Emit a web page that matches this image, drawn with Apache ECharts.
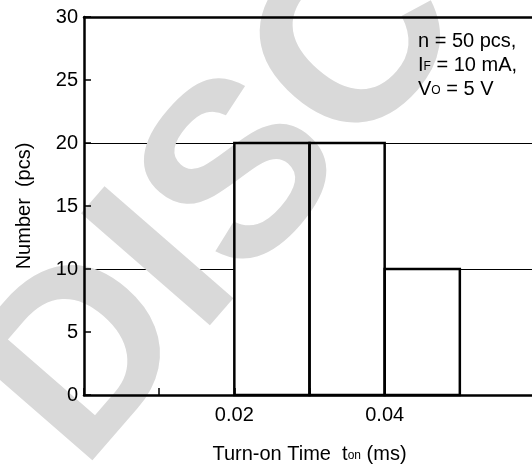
<!DOCTYPE html>
<html>
<head>
<meta charset="utf-8">
<script src="https://cdn.jsdelivr.net/npm/echarts@6/dist/echarts.min.js"></script>
<style>html,body{margin:0;padding:0;background:#fff;}#c{width:532px;height:469px;}</style>
</head>
<body>
<div id="c"></div>
<script>
// ---- data ----
const binStart = [0.02, 0.03, 0.04];
const binEnd   = [0.03, 0.04, 0.05];
const counts   = [20, 20, 10];
const xTickLabels = ['0.02', '0.04'];
const yTickLabels = ['0', '5', '10', '15', '20', '25', '30'];
const noteLines = [['n = 50 pcs,', '', ''], ['I', 'F', ' = 10 mA,'], ['V', 'O', ' = 5 V']];
const xTitle = ['Turn-on Time  t', 'on', ' (ms)'];
const yTitle = 'Number  (pcs)';
const watermark = 'DISCONTINUED';

const FONT = '"Liberation Sans", Arial, sans-serif';
const FS = 20;
const SFS = 12;

const chart = echarts.init(document.getElementById('c'), null, {renderer: 'canvas'});
const binData = binStart.map((s, i) => [s, binEnd[i], counts[i]]);

function rectItem(fill, stroke, lw) {
  return function (params, api) {
    const p0 = api.coord([api.value(0), api.value(2)]);
    const p1 = api.coord([api.value(1), 0]);
    return {
      type: 'rect',
      shape: {x: p0[0], y: p0[1], width: p1[0] - p0[0], height: p1[1] - p0[1]},
      style: {fill: fill, stroke: stroke, lineWidth: lw}
    };
  };
}

const noteText = noteLines.map(l => l[1] ? `{a|${l[0]}}{s|${l[1]}}{a|${l[2]}}` : `{a|${l[0]}}`).join('\n');
const subStyle = {fontFamily: FONT, fontSize: SFS, lineHeight: 12, verticalAlign: 'bottom', padding: [0, 0, 4, 0]};

chart.setOption({
  animation: false,
  backgroundColor: '#fff',
  grid: {left: 84, right: -3, top: 17, bottom: 74, containLabel: false, outerBoundsMode: 'none'},
  xAxis: [{
    type: 'value', min: 0, max: 0.06, interval: 0.01, position: 'bottom', z: 6,
    axisLine: {show: true, onZero: false, lineStyle: {color: '#000', width: 2.5}},
    axisTick: {show: true, inside: true, length: 7, lineStyle: {color: '#000', width: 1.5}},
    axisLabel: {
      margin: 10, color: '#000', fontFamily: FONT, fontSize: FS,
      formatter: v => xTickLabels.includes(v.toFixed(2)) ? v.toFixed(2) : ''
    },
    splitLine: {show: false},
    name: `{a|${xTitle[0]}}{s|${xTitle[1]}}{a|${xTitle[2]}}`,
    nameLocation: 'middle', nameGap: 47,
    nameTextStyle: {
      color: '#000',
      rich: {
        a: {fontFamily: FONT, fontSize: FS, color: '#000', lineHeight: 24},
        s: Object.assign({color: '#000'}, subStyle)
      }
    }
  }, {
    type: 'value', min: 0, max: 0.06, position: 'top', z: 6,
    axisLine: {show: true, onZero: false, lineStyle: {color: '#000', width: 2.5}},
    axisTick: {show: false}, axisLabel: {show: false}, splitLine: {show: false}
  }],
  yAxis: [{
    type: 'value', min: 0, max: 30, interval: 5, position: 'left', z: 6,
    axisLine: {show: true, onZero: false, lineStyle: {color: '#000', width: 2.5}},
    axisTick: {show: true, inside: true, length: 7, lineStyle: {color: '#000', width: 1.5}},
    axisLabel: {
      margin: 6, color: '#000', fontFamily: FONT, fontSize: FS,
      formatter: v => yTickLabels.includes(String(v)) ? String(v) : ''
    },
    splitLine: {show: false},
    name: yTitle, nameLocation: 'middle', nameGap: 50,
    nameTextStyle: {color: '#000', fontFamily: FONT, fontSize: FS}
  }, {
    type: 'value', min: 0, max: 30, interval: 10, position: 'left', z: 0,
    axisLine: {show: false}, axisTick: {show: false}, axisLabel: {show: false},
    splitLine: {show: true, lineStyle: {color: '#000', width: 1}}
  }],
  series: [{
    type: 'custom', z: 1, xAxisIndex: 0, yAxisIndex: 0,
    renderItem: rectItem('#fff', null, 0), data: binData,
    encode: {x: [0, 1], y: 2}, silent: true
  }, {
    type: 'custom', z: 5, xAxisIndex: 0, yAxisIndex: 0,
    renderItem: rectItem('none', '#000', 2.5), data: binData,
    encode: {x: [0, 1], y: 2}, silent: true
  }],
  graphic: [{
    type: 'text', z: 3, x: 30, y: 428, rotation: 49 * Math.PI / 180, silent: true,
    style: {text: watermark, font: 'bold 248px ' + FONT, fill: '#d9d9d9', align: 'left', verticalAlign: 'middle'}
  }, {
    type: 'text', z: 7, x: 418, y: 29, silent: true,
    style: {
      text: noteText,
      rich: {
        a: {fontFamily: FONT, fontSize: FS, fill: '#000', lineHeight: 24},
        s: Object.assign({fill: '#000'}, subStyle)
      }
    }
  }]
});
</script>
</body>
</html>
